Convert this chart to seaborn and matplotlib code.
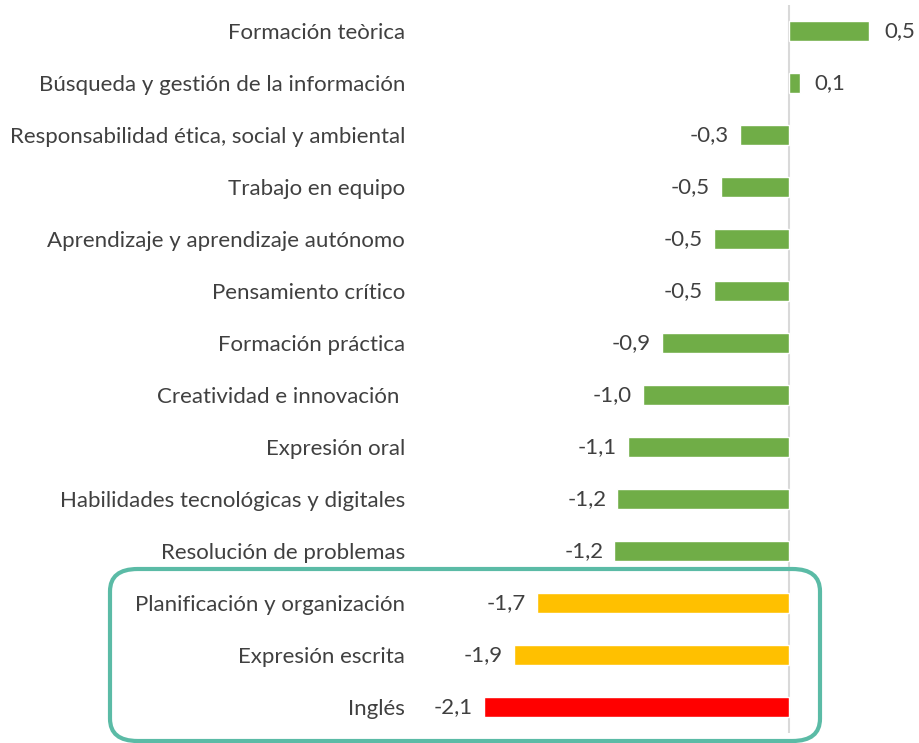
import matplotlib
matplotlib.use("Agg")
import matplotlib.pyplot as plt
import seaborn as sns
import pandas as pd
from matplotlib.patches import FancyBboxPatch

categories = [
    "Formación teòrica",
    "Búsqueda y gestión de la información",
    "Responsabilidad ética, social y ambiental",
    "Trabajo en equipo",
    "Aprendizaje y aprendizaje autónomo",
    "Pensamiento crítico",
    "Formación práctica",
    "Creatividad e innovación ",
    "Expresión oral",
    "Habilidades tecnológicas y digitales",
    "Resolución de problemas",
    "Planificación y organización",
    "Expresión escrita",
    "Inglés",
]
values = [0.54, 0.07, -0.33, -0.46, -0.51, -0.51, -0.86, -0.99, -1.09, -1.16, -1.18, -1.70, -1.86, -2.06]
bar_colors = ["#70AD47"] * 11 + ["#FFC000", "#FFC000", "#FF0000"]

df = pd.DataFrame({"cat": categories, "val": values})

sns.set_theme(style="white")
plt.rcParams["font.family"] = ["Lato", "DejaVu Sans"]

fig = plt.figure(figsize=(9.2, 7.43), dpi=100)
W, H = 920, 743
x0, x1 = 419, 915
y_top, y_bot = 5, 733
ax = fig.add_axes([x0 / W, 1 - y_bot / H, (x1 - x0) / W, (y_bot - y_top) / H])

sns.barplot(data=df, x="val", y="cat", hue="cat", palette=bar_colors,
            legend=False, width=0.37, saturation=1, ax=ax, orient="h")

ax.set_xlim(-2.5, 0.85)
ax.axvline(0, color="#D9D9D9", linewidth=1.5, zorder=0)
ax.set_xlabel("")
ax.set_ylabel("")
ax.set_xticks([])
ax.tick_params(axis="y", length=0, pad=10, labelsize=16, labelcolor="#404040")
for s in ax.spines.values():
    s.set_visible(False)

for i, v in enumerate(values):
    txt = f"{v:.1f}".replace(".", ",")
    if v >= 0:
        ax.annotate(txt, (v, i), xytext=(11, 0), textcoords="offset points",
                    ha="left", va="center", fontsize=16, color="#404040")
    else:
        ax.annotate(txt, (v, i), xytext=(-8, 0), textcoords="offset points",
                    ha="right", va="center", fontsize=16, color="#404040")

# rounded highlight box around the last three rows
box = FancyBboxPatch((110 / W, 1 - 741 / H), (820 - 110) / W, (741 - 569) / H,
                     boxstyle="round,pad=0,rounding_size=0.03",
                     transform=fig.transFigure, fill=False,
                     edgecolor="#5BBBA6", linewidth=3, clip_on=False)
fig.patches.append(box)

fig.savefig("out.png", dpi=100)
